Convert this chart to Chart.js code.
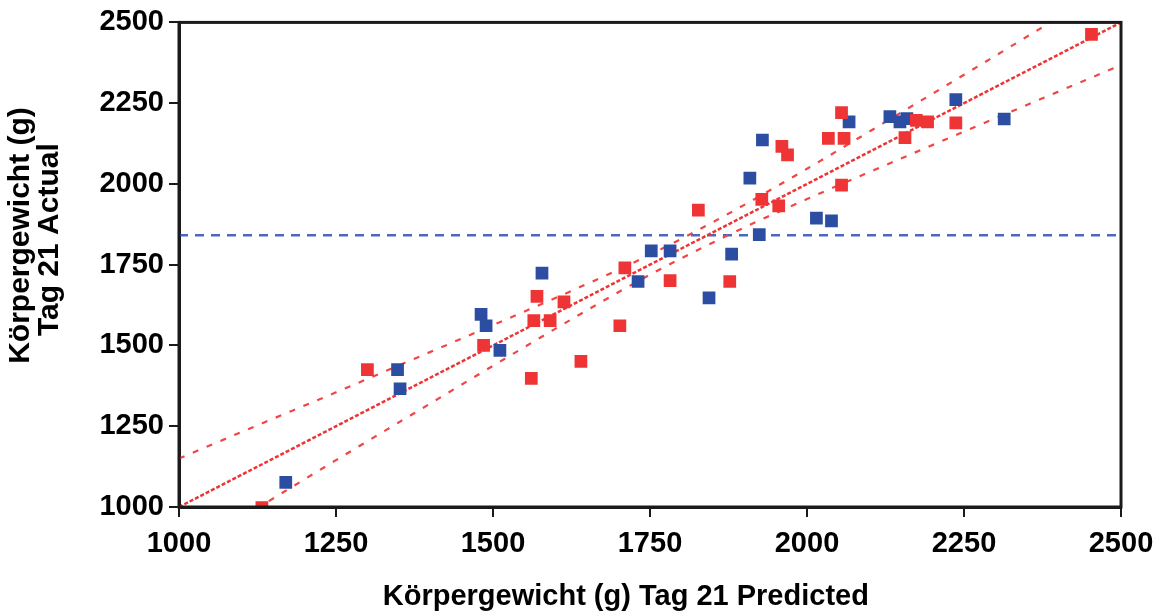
<!DOCTYPE html>
<html>
<head>
<meta charset="utf-8">
<script src="https://cdn.jsdelivr.net/npm/chart.js@4"></script>
<style>
  html, body { margin: 0; padding: 0; background: #fff; }
  #wrap { width: 1166px; height: 614px; }
</style>
</head>
<body>
<div id="wrap"><canvas id="fitChart"></canvas></div>
<script>
// Körpergewicht Tag 21: predicted (x) vs actual (y)
const redX = [1132, 1300, 1485, 1561, 1565, 1570, 1591, 1613, 1640, 1702, 1710, 1782, 1827, 1877, 1928, 1955, 1960, 1969, 2034, 2055, 2055, 2059, 2156, 2174, 2192, 2237, 2453]
const redY = [998, 1425, 1500, 1398, 1577, 1652, 1577, 1635, 1451, 1561, 1740, 1701, 1919, 1698, 1952, 1932, 2116, 2090, 2141, 1996, 2221, 2141, 2143, 2197, 2192, 2189, 2463]

const blueX = [1170, 1348, 1352, 1481, 1489, 1511, 1578, 1731, 1752, 1782, 1844, 1880, 1909, 1924, 1929, 2015, 2039, 2067, 2132, 2148, 2159, 2237, 2314]
const blueY = [1076, 1425, 1366, 1596, 1561, 1485, 1724, 1698, 1793, 1793, 1647, 1783, 2018, 1843, 2136, 1894, 1886, 2192, 2208, 2192, 2202, 2261, 2201]

// fit line, confidence band and mean line
const fitX = [1000, 2500]
const fitY = [1000, 2500]
const bandX = [1000, 1125, 1250, 1375, 1500, 1625, 1750, 1875, 2000, 2125, 2250, 2375, 2500]
const upperY = [1150, 1253, 1355, 1459, 1563, 1669, 1781, 1908, 2047, 2192, 2338, 2485, 2632]
const lowerY = [850, 997, 1145, 1291, 1437, 1581, 1719, 1842, 1953, 2058, 2162, 2265, 2368]
const meanY = 1841

const xTicks = [1000, 1250, 1500, 1750, 2000, 2250, 2500]
const yTicks = [1000, 1250, 1500, 1750, 2000, 2250, 2500]

const RED = '#ee3434'
const BLUE = '#2c4ea2'

const pts = (xs, ys) => xs.map((x, i) => ({ x: x, y: ys[i] }))
const pad = (n) => '\u00a0'.repeat(n)

const frame = {
  id: 'frame',
  afterDraw(chart) {
    const { ctx, chartArea: a } = chart
    ctx.save()
    ctx.strokeStyle = '#1a1a1a'
    ctx.lineWidth = 3
    ctx.strokeRect(a.left, a.top, a.right - a.left, a.bottom - a.top)
    ctx.restore()
  }
}

const lineSet = (data, color, dash, width) => ({
  type: 'line',
  data: data,
  borderColor: color,
  borderWidth: width,
  borderDash: dash,
  pointRadius: 0,
  fill: false,
  cubicInterpolationMode: 'monotone',
  order: 2
})

const tickFont = { family: 'Liberation Sans', size: 29, weight: 'bold' }

new Chart(document.getElementById('fitChart').getContext('2d'), {
  type: 'scatter',
  data: {
    datasets: [
      {
        label: 'rot',
        data: pts(redX, redY),
        backgroundColor: RED,
        borderColor: RED,
        borderWidth: 0,
        pointStyle: 'rect',
        pointRadius: 9,
        order: 1
      },
      {
        label: 'blau',
        data: pts(blueX, blueY),
        backgroundColor: BLUE,
        borderColor: BLUE,
        borderWidth: 0,
        pointStyle: 'rect',
        pointRadius: 9,
        order: 1
      },
      lineSet(pts(fitX, fitY), RED, [4, 2], 2.5),
      lineSet(pts(bandX, upperY), '#f04646', [6, 9], 2.2),
      lineSet(pts(bandX, lowerY), '#f04646', [6, 9], 2.2),
      lineSet(pts(fitX, [meanY, meanY]), '#4a68bd', [9, 7], 2.5)
    ]
  },
  options: {
    responsive: true,
    maintainAspectRatio: false,
    animation: false,
    layout: { padding: { top: 18, right: 45, left: 0, bottom: 0 } },
    plugins: {
      legend: { display: false },
      tooltip: { enabled: false }
    },
    scales: {
      x: {
        type: 'linear',
        min: 1000,
        max: 2500,
        afterBuildTicks: (s) => { s.ticks = xTicks.map((v) => ({ value: v })) },
        afterFit: (s) => { s.height = 107 },
        border: { display: true, color: '#1a1a1a', width: 3 },
        grid: { drawOnChartArea: false, color: '#1a1a1a', tickLength: 10, lineWidth: 2 },
        ticks: {
          color: '#000',
          padding: 10,
          maxRotation: 0,
          callback: (v) => String(v),
          font: tickFont
        },
        title: {
          display: true,
          // trailing spaces nudge the centred title a bit to the left, as in the original
          text: 'Körpergewicht (g) Tag 21 Predicted' + pad(6),
          color: '#000',
          padding: 0,
          font: { family: 'Liberation Sans', size: 29, weight: 'bold' }
        }
      },
      y: {
        type: 'linear',
        min: 1000,
        max: 2500,
        afterBuildTicks: (s) => { s.ticks = yTicks.map((v) => ({ value: v })) },
        afterFit: (s) => { s.width = 179 },
        border: { display: true, color: '#1a1a1a', width: 3 },
        grid: { drawOnChartArea: false, color: '#1a1a1a', tickLength: 10, lineWidth: 2 },
        ticks: {
          color: '#000',
          padding: 5,
          callback: (v) => String(v),
          font: tickFont
        },
        title: {
          display: true,
          text: [pad(7) + 'Körpergewicht (g)', pad(6) + 'Tag 21 Actual'],
          color: '#000',
          padding: { top: 6, bottom: 0 },
          font: { family: 'Liberation Sans', size: 30, weight: 'bold', lineHeight: 0.98 }
        }
      }
    }
  },
  plugins: [frame]
})
</script>
</body>
</html>
